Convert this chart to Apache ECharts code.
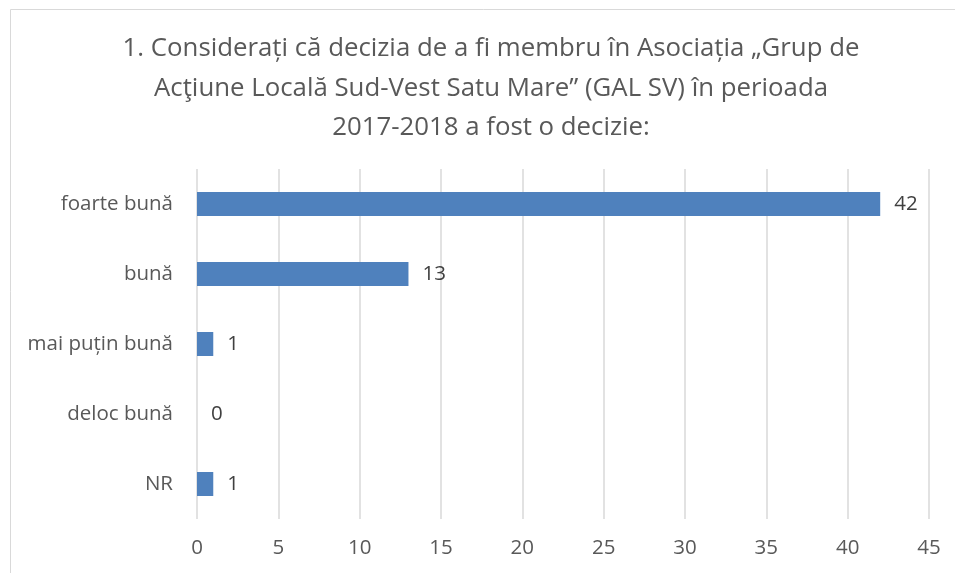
<!DOCTYPE html>
<html>
<head>
    <meta charset="utf-8">
    <title>ECharts</title>
    <script src="https://cdn.jsdelivr.net/npm/echarts@6/dist/echarts.min.js"></script>
    <style>body{margin:0;background:#fff;}</style>
</head>
<body>
<div id="main" style="width: 955px;height:573px;"></div>
<script type="text/javascript">
    var categories = ['foarte bună', 'bună', 'mai puțin bună', 'deloc bună', 'NR'];
    var values = [42, 13, 1, 0, 1];
    var xTicks = [0, 45, 5]; // min, max, interval

    var titleText = '1. Considerați că decizia de a fi membru în Asociația „Grup de\nAcţiune Locală Sud-Vest Satu Mare” (GAL SV) în perioada\n2017-2018 a fost o decizie:';

    var myChart = echarts.init(document.getElementById('main'));
    var font = "'Open Sans', sans-serif";

    var option = {
        textStyle: { fontFamily: font },
        graphic: [{
            type: 'rect',
            shape: { x: 10.5, y: 9.5, width: 960, height: 600 },
            style: { fill: 'none', stroke: '#d9d9d9', lineWidth: 1 },
            silent: true
        }],
        title: {
            text: titleText,
            left: 486,
            top: 24,
            textAlign: 'center',
            textStyle: {
                fontFamily: font,
                fontSize: 25.8,
                fontWeight: 'normal',
                color: '#595959',
                lineHeight: 39.5
            }
        },
        grid: { left: 197, right: 26, top: 169, bottom: 54, containLabel: false },
        xAxis: {
            type: 'value',
            min: xTicks[0],
            max: xTicks[1],
            interval: xTicks[2],
            axisLine: { show: false },
            axisTick: { show: false },
            splitLine: { show: true, lineStyle: { color: '#d9d9d9', width: 1.5 } },
            axisLabel: { color: '#595959', fontSize: 20.5, margin: 19, fontFamily: font }
        },
        yAxis: {
            type: 'category',
            inverse: true,
            data: categories,
            axisLine: { show: false },
            axisTick: { show: false },
            axisLabel: { color: '#595959', fontSize: 20.5, margin: 24, fontFamily: font }
        },
        series: [{
            type: 'bar',
            data: values,
            barWidth: 24,
            itemStyle: { color: '#4f81bd' },
            label: {
                show: true,
                position: 'right',
                distance: 14,
                color: '#404040',
                fontSize: 20.5,
                fontFamily: font
            }
        }]
    };
    myChart.setOption(option);
</script>
</body>
</html>
